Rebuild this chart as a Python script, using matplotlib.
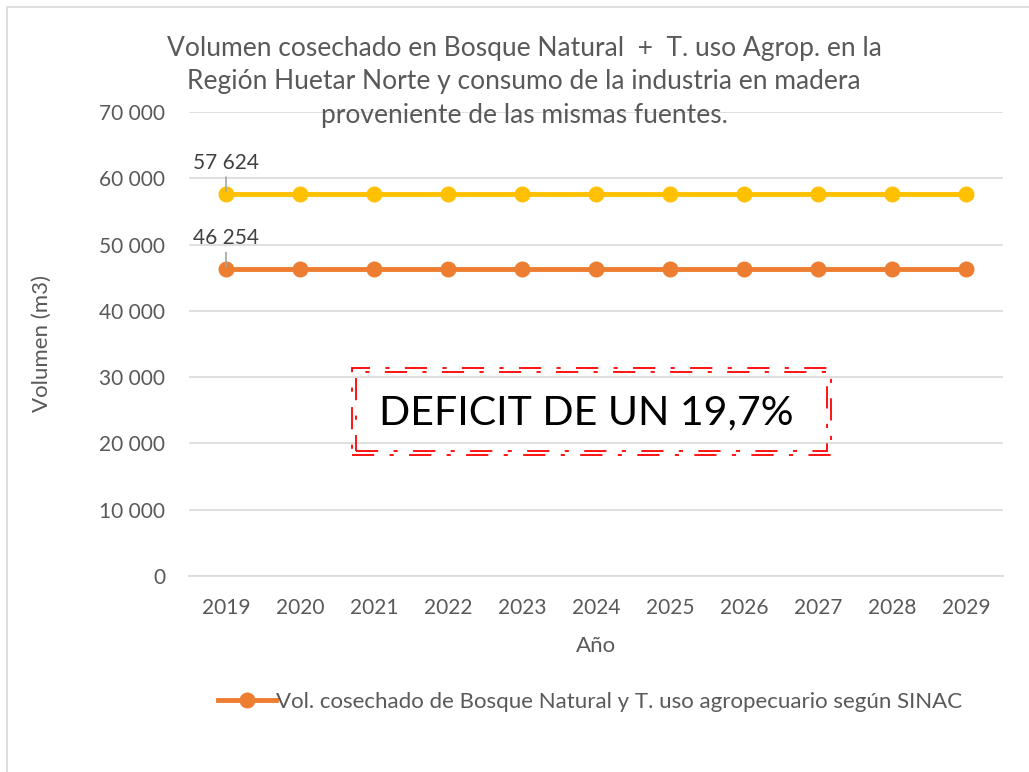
import numpy as np
import matplotlib.pyplot as plt
from matplotlib.patches import Rectangle

plt.rcParams["font.family"] = ["Lato", "DejaVu Sans"]

# datos
anios = ["2019", "2020", "2021", "2022", "2023", "2024", "2025", "2026", "2027", "2028", "2029"]
consumo_industria = [57624] * 11
vol_cosechado = [46254] * 11
y_ticks = [0, 10000, 20000, 30000, 40000, 50000, 60000, 70000]

W, H = 1029, 772
fig = plt.figure(figsize=(W / 100, H / 100), dpi=100)

# marco del gráfico
fig.patches.append(Rectangle((7 / W, -0.1), 1.2, 1 - 7 / H + 0.1, transform=fig.transFigure,
                             fill=False, edgecolor="#D9D9D9", linewidth=1.2))

ax = fig.add_axes([189 / W, 1 - 576 / H, (1003 - 189) / W, (576 - 112) / H])

x = np.arange(len(anios))
gris = "#595959"

ax.plot(x, consumo_industria, color="#FFC000", linewidth=3.5, marker="o", markersize=10.5, zorder=3)
ax.plot(x, vol_cosechado, color="#ED7D31", linewidth=3.5, marker="o", markersize=10.5, zorder=3,
        label="Vol. cosechado de Bosque Natural y T. uso agropecuario según SINAC")

ax.set_xlim(-0.5, len(anios) - 0.5)
ax.set_ylim(0, 70000)
ax.set_yticks(y_ticks)
ax.set_yticklabels([f"{v:,}".replace(",", " ") for v in y_ticks])
ax.set_xticks(x)
ax.set_xticklabels(anios)
ax.grid(axis="y", color="#D9D9D9", linewidth=1.2)
ax.set_axisbelow(True)
for s in ["top", "right", "left"]:
    ax.spines[s].set_visible(False)
ax.spines["bottom"].set_color("#D9D9D9")
ax.spines["bottom"].set_linewidth(1.2)
ax.tick_params(axis="both", length=0, labelsize=15, labelcolor=gris)
ax.tick_params(axis="x", pad=16)
ax.tick_params(axis="y", pad=17)

# títulos de los ejes
fig.text(596 / W, 1 - 646 / H, "Año", ha="center", va="center", fontsize=16, color=gris)
fig.text(42 / W, 1 - 344 / H, "Volumen (m3)", ha="center", va="center", rotation=90,
         fontsize=16, color=gris)

# etiquetas de datos con línea guía
for serie, dy in [(consumo_industria, 4700), (vol_cosechado, 4700)]:
    v = serie[0]
    ax.annotate(f"{v:,}".replace(",", " "), xy=(x[0], v), xytext=(x[0], v + dy),
                ha="center", va="center", fontsize=15, color="#404040", zorder=5,
                arrowprops=dict(arrowstyle="-", color="#A6A6A6", linewidth=1.2,
                                shrinkA=1, shrinkB=2))

# título
fig.text(524 / W, 1 - 82 / H,
         "Volumen cosechado en Bosque Natural  +  T. uso Agrop. en la\n"
         "Región Huetar Norte y consumo de la industria en madera\n"
         "proveniente de las mismas fuentes.",
         ha="center", va="center", fontsize=19, color=gris, linespacing=1.42)

# recuadro del déficit con doble línea
for off in [0, 4]:
    fig.patches.append(Rectangle(((352 + off) / W, 1 - (455 - off) / H),
                                 (479 - 2 * off) / W, (87 - 2 * off) / H,
                                 transform=fig.transFigure, fill=False, edgecolor="#FF0000",
                                 linewidth=1.3, linestyle=(0, (12.3, 8.5, 2.3, 8.5)), zorder=5))
fig.text(586 / W, 1 - 413 / H, "DEFICIT DE UN 19,7%", ha="center", va="center",
         fontsize=29.5, color="black")

leg = fig.legend(loc="center", bbox_to_anchor=(590 / W, 1 - 702 / H), frameon=False,
                 fontsize=16, handlelength=2.6, handletextpad=0.0)
for t in leg.get_texts():
    t.set_color(gris)

fig.savefig("out.png", dpi=100)
